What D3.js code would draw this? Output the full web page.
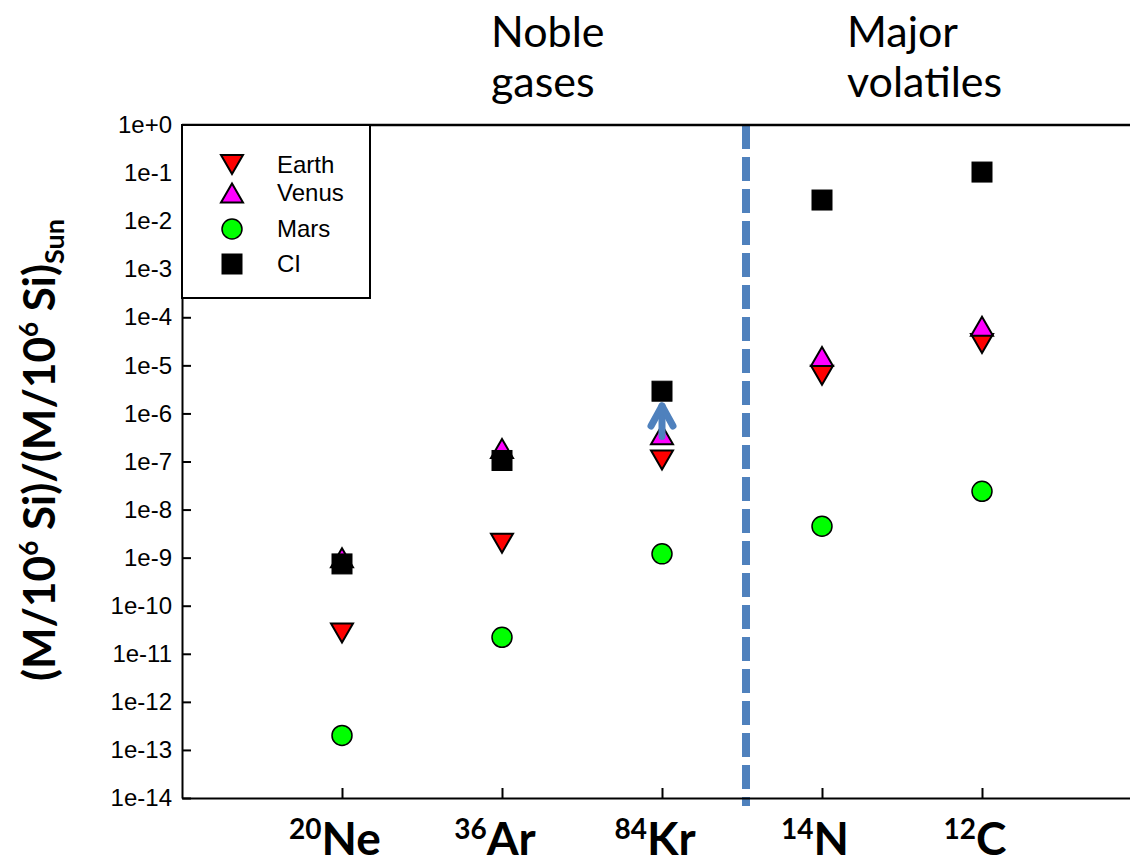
<!DOCTYPE html>
<html>
<head>
<meta charset="utf-8">
<script src="https://cdn.jsdelivr.net/npm/d3@7"></script>
<style>
  html, body { margin: 0; padding: 0; background: #fff; }
  svg { display: block; }
</style>
</head>
<body>
<svg id="chart" width="1130" height="865"></svg>
<script>
// Elements and their isotope mass numbers
const categories = ["Ne", "Ar", "Kr", "N", "C"];
const isotopes = ["20", "36", "84", "14", "12"];

// Abundances normalised to 10^6 Si, relative to the Sun
const earth = [2.7e-11, 2.0e-9, 1.07e-7, 6.2e-6, 2.85e-5];
const venus = [1.0e-9, 1.86e-7, 3.6e-7, 1.53e-5, 6.5e-5];
const mars  = [2.0e-13, 2.2e-11, 1.2e-9, 4.5e-9, 2.4e-8];
const ci    = [7.4e-10, 1.05e-7, 2.9e-6, 2.75e-2, 0.105];

// Kr lower-bound arrow (start, tip)
const krArrow = [3.3e-7, 1.65e-6];

// Decade ticks on the y axis
const yExponents = d3.range(0, -15, -1);
const yTickLabels = yExponents.map(e => e === 0 ? "1e+0" : "1e" + e);

const svg = d3.select("#chart");
const plotLeft = 182, plotRight = 1142, plotTop = 125, plotBottom = 798;

const x = d3.scaleLinear().domain([0, 6]).range([plotLeft, plotRight]);
const y = d3.scaleLog().domain([1e-14, 1]).range([plotBottom, plotTop]);
const catX = i => x(i + 1);
const dividerPos = 3.525;

// Divider between noble gases and major volatiles
svg.append("line")
  .attr("x1", x(dividerPos)).attr("x2", x(dividerPos))
  .attr("y1", plotTop).attr("y2", plotBottom + 8)
  .attr("stroke", "#4f81bd").attr("stroke-width", 8)
  .attr("stroke-dasharray", "24 8");

// Axes
const yAxis = d3.axisLeft(y)
  .tickValues(yExponents.map(e => Math.pow(10, e)))
  .tickFormat((d, i) => yTickLabels[i])
  .tickSizeInner(-9).tickSizeOuter(0).tickPadding(10);
const yG = svg.append("g").attr("transform", `translate(${plotLeft},0)`).call(yAxis);
yG.selectAll("text")
  .attr("font-family", "Liberation Sans, Arial, sans-serif")
  .attr("font-size", 24).attr("fill", "#000");
yG.selectAll("line, path").attr("stroke", "#000").attr("stroke-width", 2);

const xAxis = d3.axisBottom(x)
  .tickValues(categories.map((c, i) => i + 1))
  .tickFormat("").tickSizeInner(-10).tickSizeOuter(0);
const xG = svg.append("g").attr("transform", `translate(0,${plotBottom})`).call(xAxis);
xG.selectAll("line, path").attr("stroke", "#000").attr("stroke-width", 2);

// Top frame line
svg.append("line")
  .attr("x1", plotLeft).attr("x2", plotRight).attr("y1", plotTop).attr("y2", plotTop)
  .attr("stroke", "#000").attr("stroke-width", 2.5);

// Category labels with isotope superscripts
const xl = svg.append("g");
categories.forEach((c, i) => {
  const t = xl.append("text")
    .attr("x", catX(i) - 7).attr("y", 855)
    .attr("text-anchor", "middle")
    .attr("font-family", "Lato, 'Open Sans', sans-serif")
    .attr("font-weight", "bold").attr("fill", "#000");
  t.append("tspan").attr("font-size", 28).attr("dy", -16).text(isotopes[i]);
  t.append("tspan").attr("font-size", 46).attr("dy", 16).text(c);
});

// Group headings
const heading = (lines, x0) => {
  lines.forEach((s, k) => {
    svg.append("text")
      .attr("x", x0).attr("y", 47 + k * 50)
      .attr("font-family", "Lato, 'Open Sans', sans-serif")
      .attr("font-size", 43).attr("fill", "#000").text(s);
  });
};
heading(["Noble", "gases"], 491);
heading(["Major", "volatiles"], 847);

// Y axis title
const yt = svg.append("text")
  .attr("transform", "translate(55,450) rotate(-90)")
  .attr("text-anchor", "middle")
  .attr("font-family", "Lato, 'Open Sans', sans-serif")
  .attr("font-weight", "bold").attr("font-size", 44).attr("fill", "#000");
yt.append("tspan").text("(M/10");
yt.append("tspan").attr("font-size", 26).attr("dy", -17).text("6");
yt.append("tspan").attr("dy", 17).text(" Si)/(M/10");
yt.append("tspan").attr("font-size", 26).attr("dy", -17).text("6");
yt.append("tspan").attr("dy", 17).text(" Si)");
yt.append("tspan").attr("font-size", 27).attr("dy", 9).text("Sun");

// Marker shapes, centred on their bounding box
const triW = 22, triH = 19, sq = 20, rad = 10;
const triUp = `M0,${-triH / 2}L${triW / 2},${triH / 2}L${-triW / 2},${triH / 2}Z`;
const triDown = `M0,${triH / 2}L${triW / 2},${-triH / 2}L${-triW / 2},${-triH / 2}Z`;

const series = [
  { name: "Earth", values: earth, kind: "down", fill: "#ff0000" },
  { name: "Venus", values: venus, kind: "up", fill: "#ff00ff" },
  { name: "Mars", values: mars, kind: "circle", fill: "#00ff00" },
  { name: "CI", values: ci, kind: "square", fill: "#000000" }
];

function drawMarker(g, kind, fill) {
  if (kind === "circle") {
    g.append("circle").attr("r", rad).attr("fill", fill)
      .attr("stroke", "#000").attr("stroke-width", 1.5);
  } else if (kind === "square") {
    g.append("rect").attr("x", -sq / 2).attr("y", -sq / 2)
      .attr("width", sq).attr("height", sq).attr("fill", fill)
      .attr("stroke", "#000").attr("stroke-width", 1);
  } else {
    g.append("path").attr("d", kind === "up" ? triUp : triDown)
      .attr("fill", fill).attr("stroke", "#000").attr("stroke-width", 2)
      .attr("stroke-linejoin", "miter");
  }
}

const marks = svg.append("g");
series.forEach(s => {
  s.values.forEach((v, i) => {
    const g = marks.append("g").attr("transform", `translate(${catX(i)},${y(v)})`);
    drawMarker(g, s.kind, s.fill);
  });
});

// Kr arrow
const kx = catX(2);
const arrowG = svg.append("g")
  .attr("stroke", "#4f81bd").attr("stroke-width", 7)
  .attr("stroke-linecap", "round").attr("stroke-linejoin", "round").attr("fill", "none");
arrowG.append("line")
  .attr("x1", kx).attr("x2", kx)
  .attr("y1", y(krArrow[0])).attr("y2", y(krArrow[1]) + 3);
arrowG.append("path")
  .attr("d", `M${kx - 11},${y(krArrow[1]) + 23}L${kx},${y(krArrow[1]) + 3}L${kx + 11},${y(krArrow[1]) + 23}`);

// Legend
const lg = svg.append("g");
lg.append("rect").attr("x", plotLeft).attr("y", plotTop)
  .attr("width", 188).attr("height", 173)
  .attr("fill", "#fff").attr("stroke", "#000").attr("stroke-width", 2);
const legendRows = [164.5, 193, 229, 264];
series.forEach((s, k) => {
  const g = lg.append("g").attr("transform", `translate(232,${legendRows[k]})`);
  drawMarker(g, s.kind, s.fill);
  lg.append("text")
    .attr("x", 277).attr("y", legendRows[k] + 8)
    .attr("font-family", "Liberation Sans, Arial, sans-serif")
    .attr("font-size", 24).attr("fill", "#000").text(s.name);
});
</script>
</body>
</html>
